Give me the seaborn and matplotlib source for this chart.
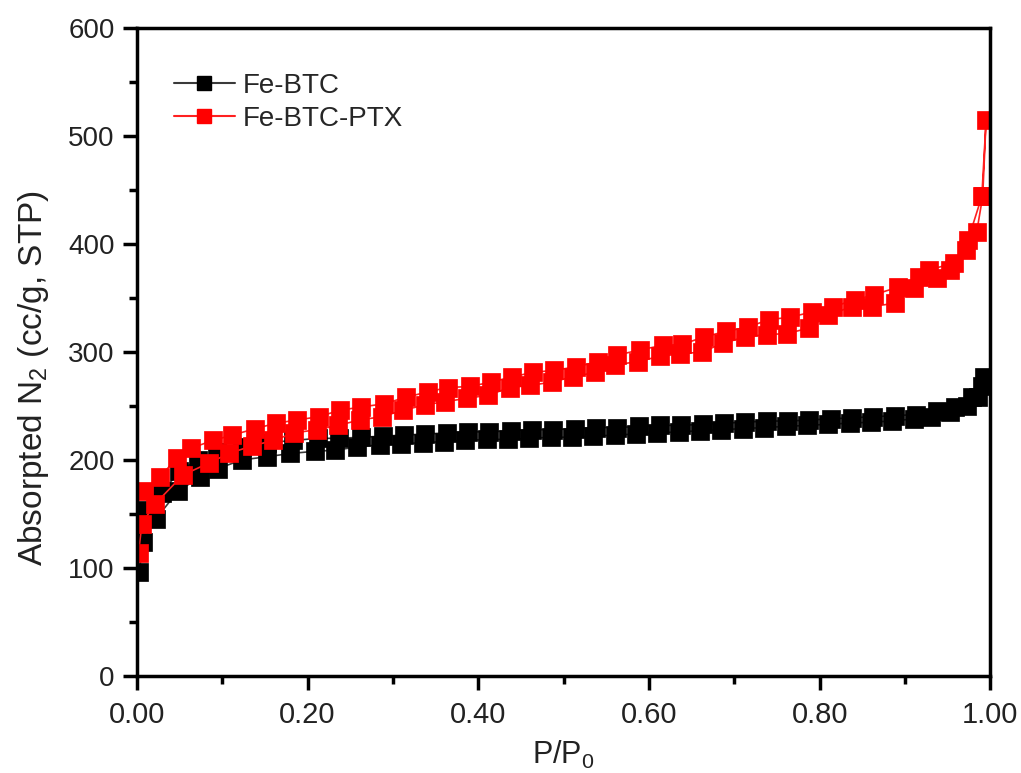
import matplotlib
matplotlib.use("Agg")
import matplotlib.pyplot as plt
import seaborn as sns
import pandas as pd
from matplotlib.ticker import MultipleLocator, FormatStrFormatter
from matplotlib.lines import Line2D

# N2 isotherm data: relative pressure P/P0 and adsorbed volume (cc/g, STP)
# Fe-BTC, adsorption branch
btc_ads_p = [0.003, 0.007, 0.022, 0.048, 0.074, 0.095, 0.123, 0.153, 0.180, 0.209,
             0.232, 0.258, 0.285, 0.310, 0.335, 0.360, 0.385, 0.410, 0.435, 0.460,
             0.485, 0.510, 0.535, 0.560, 0.585, 0.610, 0.635, 0.660, 0.685, 0.710,
             0.735, 0.760, 0.785, 0.810, 0.835, 0.860, 0.885, 0.910, 0.930, 0.953,
             0.973, 0.985, 0.992]
btc_ads_v = [96, 124, 145, 171, 184, 192, 200, 203, 206, 208,
             209, 212, 214, 215, 216, 217, 218, 219, 219, 220,
             221, 221, 222, 223, 224, 225, 226, 227, 228, 229,
             230, 231, 232, 233, 234, 235, 236, 238, 240, 244,
             250, 258, 277]
# Fe-BTC, desorption branch
btc_des_p = [0.990, 0.978, 0.958, 0.938, 0.913, 0.888, 0.863, 0.838, 0.813, 0.788,
             0.763, 0.738, 0.713, 0.688, 0.663, 0.638, 0.613, 0.588, 0.563, 0.538,
             0.513, 0.488, 0.463, 0.438, 0.413, 0.388, 0.363, 0.338, 0.313, 0.288,
             0.263, 0.237, 0.212, 0.183, 0.153, 0.123, 0.094, 0.072, 0.050, 0.029,
             0.012]
btc_des_v = [268, 258, 249, 245, 242, 241, 240, 239, 238, 237,
             236, 236, 235, 234, 233, 232, 232, 231, 230, 230,
             229, 228, 228, 227, 226, 226, 225, 224, 223, 222,
             221, 220, 220, 218, 216, 212, 207, 200, 190, 169,
             154]

# Fe-BTC-PTX, adsorption branch
ptx_ads_p = [0.002, 0.006, 0.021, 0.054, 0.084, 0.108, 0.135, 0.160, 0.184, 0.211,
             0.236, 0.261, 0.287, 0.312, 0.338, 0.361, 0.387, 0.412, 0.437, 0.461,
             0.486, 0.511, 0.537, 0.560, 0.587, 0.613, 0.636, 0.662, 0.687, 0.713,
             0.738, 0.762, 0.787, 0.810, 0.838, 0.861, 0.888, 0.910, 0.938, 0.953,
             0.972, 0.984, 0.991, 0.995]
ptx_ads_v = [114, 141, 159, 186, 197, 206, 213, 218, 225, 228,
             232, 237, 240, 246, 251, 254, 257, 260, 267, 269,
             272, 277, 281, 288, 291, 296, 298, 300, 308, 314,
             316, 317, 322, 334, 342, 342, 345, 359, 368, 376,
             394, 411, 444, 515]
# Fe-BTC-PTX, desorption branch
ptx_des_p = [0.990, 0.974, 0.957, 0.928, 0.916, 0.892, 0.864, 0.841, 0.816, 0.791,
             0.765, 0.741, 0.716, 0.690, 0.665, 0.639, 0.616, 0.590, 0.563, 0.540,
             0.514, 0.489, 0.464, 0.440, 0.415, 0.390, 0.364, 0.341, 0.315, 0.290,
             0.263, 0.238, 0.213, 0.188, 0.163, 0.139, 0.112, 0.089, 0.064, 0.047,
             0.027, 0.009]
ptx_des_v = [444, 404, 382, 376, 369, 360, 353, 348, 342, 337,
             332, 330, 323, 319, 314, 307, 306, 302, 297, 291,
             286, 283, 281, 277, 272, 268, 267, 263, 258, 252,
             249, 246, 240, 237, 234, 229, 223, 218, 211, 202,
             184, 171]

series_names = ["Fe-BTC", "Fe-BTC-PTX"]
marker_colors = {"Fe-BTC": "#000000", "Fe-BTC-PTX": "#ff0000"}
line_colors = {"Fe-BTC": "#3a3a3a", "Fe-BTC-PTX": "#ff2020"}

x_ticks = [0.0, 0.2, 0.4, 0.6, 0.8, 1.0]
y_ticks = [0, 100, 200, 300, 400, 500, 600]

frames = []
for name, (ap, av, dp, dv) in zip(series_names, [
        (btc_ads_p, btc_ads_v, btc_des_p, btc_des_v),
        (ptx_ads_p, ptx_ads_v, ptx_des_p, ptx_des_v)]):
    p = list(ap) + list(dp)
    v = list(av) + list(dv)
    frames.append(pd.DataFrame({"P": p, "V": v, "sample": name}))
data = pd.concat(frames, ignore_index=True)

sns.set_theme(style="ticks")
plt.rcParams["font.family"] = ["Liberation Sans", "DejaVu Sans"]
plt.rcParams["mathtext.default"] = "regular"

fig = plt.figure(figsize=(10.21, 7.73), dpi=100)
ax = fig.add_axes([0.134, 0.1255, 0.836, 0.8385])

for name in series_names:
    sub = data[data["sample"] == name]
    sns.lineplot(data=sub, x="P", y="V", sort=False, estimator=None, ax=ax,
                 color=line_colors[name], linewidth=1.2, marker="s",
                 markersize=12.5, markerfacecolor=marker_colors[name],
                 markeredgecolor=marker_colors[name], markeredgewidth=0.5,
                 legend=False)

ax.set_xlim(0, 1.0)
ax.set_ylim(0, 600)
ax.set_xticks(x_ticks)
ax.set_yticks(y_ticks)
ax.xaxis.set_minor_locator(MultipleLocator(0.1))
ax.yaxis.set_minor_locator(MultipleLocator(50))
ax.xaxis.set_major_formatter(FormatStrFormatter("%.2f"))

for s in ax.spines.values():
    s.set_linewidth(2.5)
    s.set_color("black")
ax.tick_params(which="major", length=10, width=2.5, direction="out",
               top=False, right=False, colors="black")
ax.tick_params(which="minor", length=6, width=2.5, direction="out",
               top=False, right=False, colors="black")
ax.tick_params(axis="y", which="major", labelsize=20, pad=6)
ax.tick_params(axis="x", which="major", labelsize=21, pad=8)
for lab in ax.get_xticklabels() + ax.get_yticklabels():
    lab.set_color("#222222")

ax.set_xlabel("P/P$_0$", fontsize=22, color="#222222")
ax.set_ylabel("Absorpted N$_2$ (cc/g, STP)", fontsize=24, color="#222222")
ax.xaxis.set_label_coords(0.5, -0.097)
ax.yaxis.set_label_coords(-0.1, 0.46)

handles = [Line2D([], [], color=line_colors[n], linewidth=1.5, marker="s",
                  markersize=10, markerfacecolor=marker_colors[n],
                  markeredgecolor=marker_colors[n]) for n in series_names]
ax.legend(handles, series_names, loc="upper left", bbox_to_anchor=(0.03, 0.948),
          frameon=False, fontsize=20, handlelength=2.2, handletextpad=0.3,
          labelspacing=0.25, borderaxespad=0)

fig.savefig("out.png", dpi=100)
